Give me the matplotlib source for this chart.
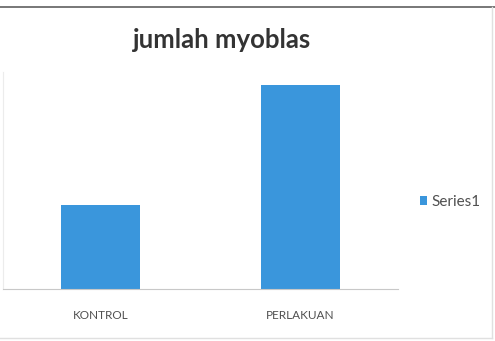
import matplotlib.pyplot as plt
from matplotlib.lines import Line2D

# data
kategori = ["KONTROL", "PERLAKUAN"]
jumlah = [41, 100]
nama_seri = "Series1"

plt.rcParams['font.family'] = ['Lato', 'DejaVu Sans']

fig = plt.figure(figsize=(4.95, 3.41), dpi=100)
ax = fig.add_axes([0.006, 0.1525, 0.798, 0.636])

warna = "#3a96dc"
x = range(len(kategori))
ax.bar(x, jumlah, width=0.395, color=warna, label=nama_seri)

ax.set_xlim(-0.4875, 1.4875)
ax.set_ylim(0, 106.4)
ax.set_xticks(list(x))
ax.set_xticklabels(kategori, fontsize=8.5, color="#505050")
ax.tick_params(axis="x", length=0, pad=15)
ax.set_yticks([])

for s in ["top", "right"]:
    ax.spines[s].set_visible(False)
ax.spines["bottom"].set_color("#c8c8c8")
ax.spines["left"].set_color("#ececec")

fig.text(0.449, 0.882, "jumlah myoblas", ha="center", va="center",
         fontsize=18.5, fontweight="bold", color="#333333")

ax.legend(loc="center left", bbox_to_anchor=(1.02, 0.4), frameon=False,
          fontsize=11, handlelength=0.5, handleheight=0.5, handletextpad=0.3,
          labelcolor="#505050")

# chart border
fig.add_artist(Line2D([0, 1], [0.979, 0.979], color="#606060", lw=1.2))
fig.add_artist(Line2D([0.994, 0.994], [0.01, 0.979], color="#e0e0e0", lw=1))
fig.add_artist(Line2D([0, 0.994], [0.01, 0.01], color="#e0e0e0", lw=1))

fig.savefig("out.png", dpi=100)
